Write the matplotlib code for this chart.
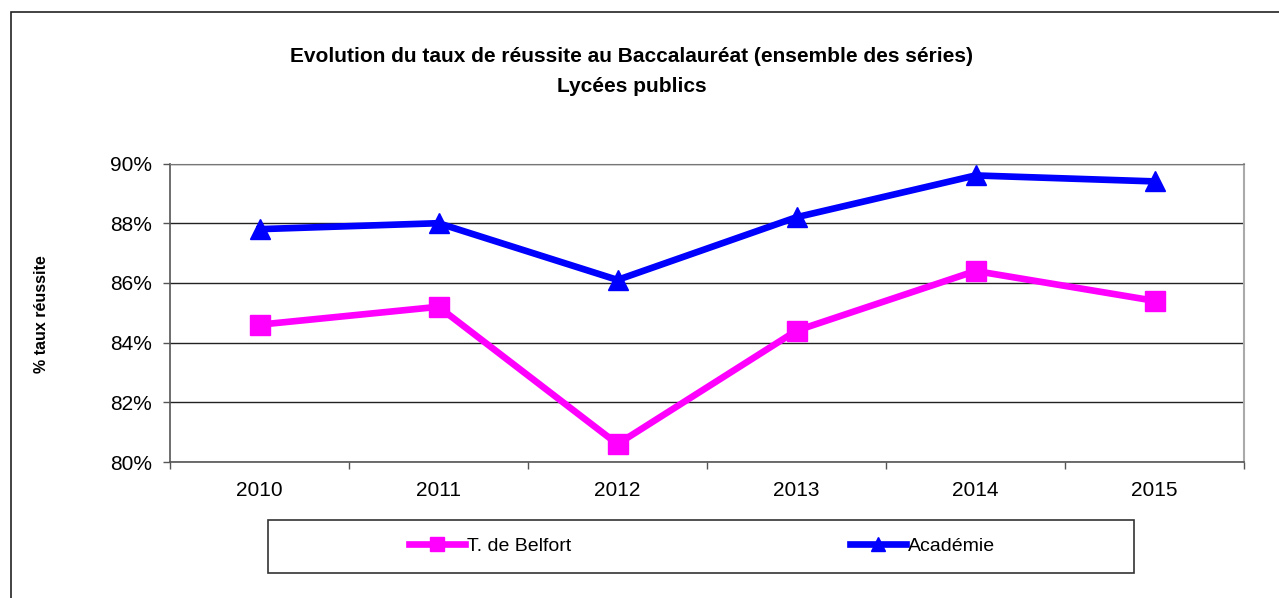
import matplotlib
matplotlib.use("Agg")
import matplotlib.pyplot as plt
from matplotlib.patches import Rectangle
from matplotlib.ticker import FixedLocator, NullFormatter, FuncFormatter

plt.rcParams['font.family'] = ['Liberation Sans', 'DejaVu Sans']

years = ['2010', '2011', '2012', '2013', '2014', '2015']
belfort = [84.6, 85.2, 80.6, 84.4, 86.4, 85.4]
academie = [87.8, 88.0, 86.1, 88.2, 89.6, 89.4]
series_names = ['T. de Belfort', 'Académie']
title_lines = ['Evolution du taux de réussite au Baccalauréat (ensemble des séries)', 'Lycées publics']
ylabel = '% taux réussite'
yticks = [80, 82, 84, 86, 88, 90]

W, H = 1279, 598
fig = plt.figure(figsize=(W / 100, H / 100), dpi=100)

# outer chart border
fig.patches.append(Rectangle((10.5 / W, -0.1), 2, 1.1 - 12 / H, transform=fig.transFigure,
                             fill=False, edgecolor='#222222', linewidth=1.2))

ax = fig.add_axes([170 / W, 1 - 462 / H, 1074 / W, (462 - 163.5) / H])
x = list(range(len(years)))
l1, = ax.plot(x, belfort, color='#FF00FF', linewidth=4.8, marker='s', markersize=14.5,
              solid_joinstyle='miter', clip_on=False, zorder=3)
l2, = ax.plot(x, academie, color='#0000FF', linewidth=4.8, marker='^', markersize=15,
              solid_joinstyle='miter', clip_on=False, zorder=4)

ax.set_xlim(-0.5, len(years) - 0.5)
ax.set_ylim(80, 90)
ax.set_yticks(yticks)
ax.yaxis.set_major_formatter(FuncFormatter(lambda v, p: f"{v:.0f}%"))
ax.set_xticks(x)
ax.set_xticklabels(years)
ax.xaxis.set_minor_locator(FixedLocator([i - 0.5 for i in range(len(years) + 1)]))
ax.xaxis.set_minor_formatter(NullFormatter())
ax.tick_params(axis='x', which='major', length=0, pad=14, labelsize=15)
ax.tick_params(axis='x', which='minor', length=5, width=1, color='#555555', direction='out')
ax.tick_params(axis='y', length=5, width=1, color='#555555', direction='out', pad=8, labelsize=15)
ax.grid(axis='y', color='#222222', linewidth=1)
ax.set_axisbelow(True)
for s in ['left', 'bottom']:
    ax.spines[s].set_color('#555555')
    ax.spines[s].set_linewidth(1.2)
ax.spines['top'].set_color('#777777')
ax.spines['right'].set_color('#aaaaaa')
ax.spines['right'].set_linewidth(1.5)

fig.text(42 / W, 1 - 314 / H, ylabel, rotation=90, ha='center', va='center',
         fontsize=11.5, fontweight='bold')
fig.text(632 / W, 1 - 56 / H, title_lines[0], ha='center', va='center', fontsize=15, fontweight='bold')
fig.text(632 / W, 1 - 86 / H, title_lines[1], ha='center', va='center', fontsize=15, fontweight='bold')

# legend box
fig.patches.append(Rectangle((267.5 / W, 1 - 572.5 / H), (1133.5 - 267.5) / W, (572.5 - 519.5) / H,
                             transform=fig.transFigure, fill=False, edgecolor='#333333', linewidth=1.2))
leg = fig.legend([l1, l2], series_names, loc='center', bbox_to_anchor=(702 / W, 1 - 546 / H),
                 ncol=2, frameon=False, fontsize=14, handlelength=2.9, handletextpad=0.1,
                 columnspacing=14.3, markerscale=0.7, numpoints=1)

fig.savefig('out.png', dpi=100)
